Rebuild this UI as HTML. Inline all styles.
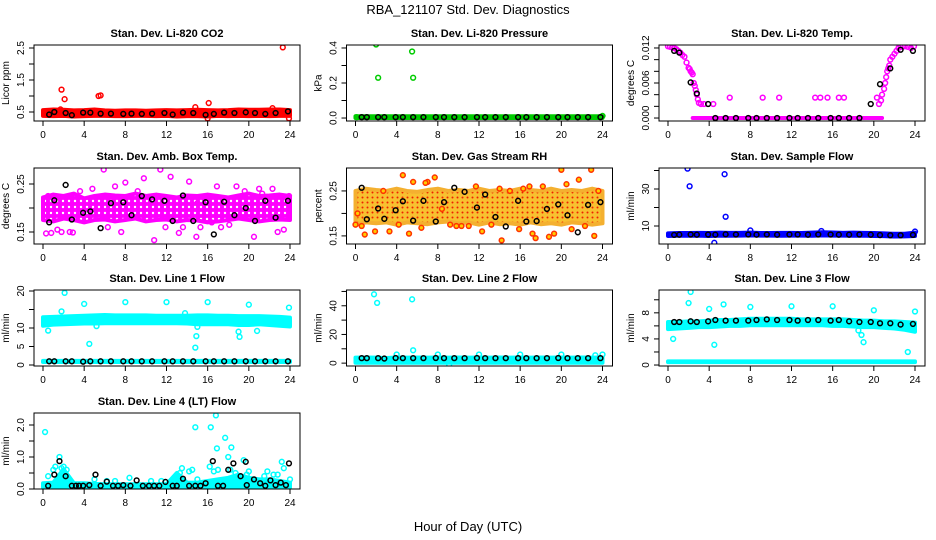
<!DOCTYPE html>
<html><head><meta charset="utf-8"><style>
html,body{margin:0;padding:0;background:#fff;}
svg{display:block;font-family:"Liberation Sans",sans-serif;}
</style></head><body>
<svg id="chart" width="936" height="540" viewBox="0 0 936 540">
<defs>
<pattern id="pat-mag" width="6" height="6" patternUnits="userSpaceOnUse">
<rect width="6" height="6" fill="#ff00ff"/>
<circle cx="3" cy="3" r="1.2" fill="#fff"/>
</pattern>
<pattern id="pat-rh" width="5" height="5" patternUnits="userSpaceOnUse">
<rect width="5" height="5" fill="#f8c030"/>
<circle cx="2.5" cy="2.5" r="1" fill="#ee2200"/>
</pattern>
</defs>
<text x="468" y="14" text-anchor="middle" font-size="13">RBA_121107  Std. Dev. Diagnostics</text>
<text x="468" y="531" text-anchor="middle" font-size="13">Hour of Day (UTC)</text>
</svg>
<script>
const HOURS = [0,1,2,3,4,5,6,7,8,9,10,11,12,13,14,15,16,17,18,19,20,21,22,23,24];
const BLACK_X = [0.6,1.1,2.2,2.8,3.9,4.6,5.6,6.6,7.8,8.6,9.6,10.6,11.8,12.6,13.6,14.6,15.8,16.6,17.6,18.6,19.7,20.6,21.6,22.6,23.8];
const XTICKS = [0,4,8,12,16,20,24];

const co2Lo = [0.38,0.37,0.38,0.36,0.37,0.38,0.38,0.37,0.37,0.38,0.38,0.37,0.38,0.36,0.37,0.37,0.36,0.38,0.37,0.38,0.37,0.38,0.37,0.38,0.38];
const co2Hi = [0.56,0.58,0.57,0.55,0.56,0.58,0.55,0.54,0.55,0.55,0.54,0.55,0.56,0.55,0.56,0.57,0.56,0.55,0.56,0.58,0.57,0.57,0.58,0.58,0.56];
const co2PtX = [1.8,2.1,5.4,5.6,14.8,16.1,23.3,23.9,16.0,1.7,22.3];
const co2PtY = [1.2,0.9,1.0,1.02,0.65,0.78,2.52,0.3,0.3,0.58,0.62];
const co2Black = [0.42,0.5,0.47,0.4,0.48,0.48,0.45,0.45,0.44,0.45,0.44,0.45,0.47,0.42,0.48,0.47,0.41,0.44,0.48,0.47,0.49,0.47,0.44,0.47,0.52];
const presLo = [0,0,0,0,0,0,0,0,0,0,0,0,0,0,0,0,0,0,0,0,0,0,0,0,0];
const presHi = [0.01,0.01,0.01,0.01,0.01,0.01,0.01,0.01,0.01,0.01,0.01,0.01,0.01,0.01,0.01,0.01,0.01,0.01,0.01,0.01,0.01,0.01,0.01,0.01,0.01];
const presPtX = [2.0,2.2,5.5,5.6,0.1,24];
const presPtY = [0.42,0.23,0.38,0.23,0.005,0.012];
const presBlack = [0.005,0.005,0.005,0.005,0.005,0.005,0.005,0.005,0.005,0.005,0.005,0.005,0.005,0.005,0.005,0.005,0.005,0.005,0.005,0.005,0.005,0.005,0.005,0.005,0.005];
const tempBandX = [2.4,20.8];
const tempLo = [0,0];
const tempHi = [0,0];
const tempPtX = [0,0.2,0.4,0.6,0.8,1,1.2,1.4,1.6,1.8,2,2.1,2.2,2.3,2.4,2.5,2.6,2.7,2.8,2.9,3,3.2,3.5,4.4,6,9.2,10.8,14.3,14.8,15.5,16.6,17.1,20.3,20.5,20.7,20.8,21,21.1,21.2,21.3,21.4,21.5,21.6,21.8,22,22.2,22.4,22.6,22.8,23,23.3,23.6,23.9];
const tempPtY = [0.0123,0.0122,0.0121,0.0120,0.0118,0.0115,0.0112,0.0108,0.0105,0.0095,0.0086,0.0084,0.0080,0.0078,0.0075,0.0060,0.0055,0.0048,0.0040,0.0032,0.0026,0.0024,0.0024,0.0024,0.0035,0.0035,0.0035,0.0035,0.0035,0.0035,0.0035,0.0035,0.0035,0.0024,0.0030,0.0040,0.0050,0.0060,0.0070,0.0080,0.0085,0.0090,0.0100,0.0105,0.0110,0.0115,0.0120,0.0122,0.0123,0.0123,0.0122,0.0120,0.0123];
const tempBlack = [0.0115,0.0112,0.0061,0.0042,0.0024,0,0,0,0,0,0,0,0,0,0,0,0,0,0,0,0.0024,0.0058,0.0085,0.0117,0.0115];
const ambLo = [0.175,0.172,0.178,0.175,0.17,0.175,0.176,0.172,0.175,0.178,0.172,0.175,0.176,0.172,0.175,0.174,0.17,0.172,0.175,0.178,0.175,0.172,0.175,0.176,0.175];
const ambHi = [0.222,0.228,0.225,0.23,0.22,0.225,0.228,0.226,0.225,0.23,0.225,0.228,0.225,0.222,0.226,0.225,0.228,0.225,0.222,0.226,0.23,0.225,0.226,0.228,0.225];
const ambPtX = [0.3,0.8,1.4,2.6,2.9,3.6,5.9,6.3,7.0,7.6,8.0,9.8,10.8,11.4,11.9,12.4,13.2,14.2,14.9,15.3,16.4,16.9,17.3,18.8,19.6,20.5,21.3,22.3,22.8,23.4,23.9,0.5,4.8,6.6,9.2,13.6,15.0,18.1,21.0,1.8];
const ambPtY = [0.147,0.148,0.155,0.15,0.149,0.235,0.28,0.16,0.245,0.15,0.253,0.262,0.133,0.28,0.16,0.265,0.148,0.255,0.14,0.16,0.17,0.245,0.16,0.245,0.235,0.14,0.23,0.24,0.15,0.155,0.225,0.225,0.24,0.22,0.235,0.16,0.21,0.165,0.24,0.15];
const ambBlack = [0.17,0.216,0.248,0.176,0.19,0.193,0.158,0.21,0.212,0.185,0.225,0.218,0.215,0.173,0.226,0.173,0.212,0.145,0.213,0.185,0.2,0.173,0.215,0.18,0.215];
const rhLo = [0.175,0.18,0.178,0.18,0.175,0.18,0.178,0.176,0.18,0.182,0.178,0.18,0.175,0.18,0.176,0.178,0.175,0.18,0.176,0.178,0.175,0.18,0.178,0.175,0.178];
const rhHi = [0.25,0.255,0.252,0.25,0.255,0.25,0.248,0.252,0.255,0.25,0.252,0.25,0.255,0.25,0.252,0.25,0.255,0.252,0.25,0.255,0.25,0.252,0.25,0.255,0.25];
const rhPtX = [0,0.2,0.6,0.9,1.9,2.7,3.3,4.6,5.2,5.6,6.4,7.0,7.7,8.4,9.2,10.3,11.0,11.7,12.3,13.2,14.0,14.2,15.0,15.9,16.3,16.9,17.2,17.5,18.2,18.8,19.3,20.0,20.5,21.0,21.7,22.3,22.9,23.2,23.6,4.2,6.8,9.8];
const rhPtY = [0.175,0.2,0.172,0.153,0.16,0.25,0.16,0.285,0.155,0.27,0.168,0.27,0.28,0.21,0.175,0.172,0.172,0.26,0.16,0.175,0.255,0.14,0.25,0.165,0.255,0.26,0.155,0.145,0.26,0.148,0.155,0.297,0.265,0.165,0.275,0.172,0.297,0.15,0.25,0.175,0.268,0.172];
const rhBlack = [0.257,0.187,0.211,0.188,0.207,0.227,0.184,0.228,0.182,0.225,0.257,0.248,0.213,0.242,0.192,0.171,0.228,0.182,0.183,0.21,0.22,0.196,0.158,0.219,0.225];
const sampLo = [4.6,4.8,4.7,4.8,4.6,4.8,4.7,4.8,4.9,4.8,4.8,4.7,4.8,4.8,4.7,4.9,4.8,4.8,4.7,4.8,4.6,4.5,4.3,4.4,4.6];
const sampHi = [6.0,6.2,6.2,6.3,6.2,6.4,6.3,6.3,6.4,6.2,6.2,6.3,6.3,6.2,6.4,6.6,6.5,6.3,6.4,6.3,6.2,6.0,5.8,5.8,6.4];
const sampPtX = [1.9,2.1,5.5,5.6,4.5,8.0,14.9,24.0];
const sampPtY = [41.0,31.5,38.0,15.0,0.9,7.6,7.3,7.0];
const sampBlack = [5.2,5.3,5.4,5.3,5.4,5.3,5.5,5.4,5.4,5.3,5.4,5.3,5.4,5.4,5.3,5.4,5.4,5.3,5.3,5.4,5.3,5.1,5.0,5.0,5.2];
const l1Lo = [10.6,10.9,11.0,11.1,11.2,11.2,11.3,11.3,11.3,11.3,11.3,11.3,11.3,11.3,11.2,11.0,11.0,11.0,11.0,10.8,10.8,11.0,10.8,10.6,10.4];
const l1Hi = [12.9,13.0,13.1,13.2,13.3,13.4,13.5,13.4,13.4,13.4,13.4,13.3,13.3,13.3,13.3,13.4,13.4,13.3,13.3,13.2,13.2,13.2,13.1,13.0,12.8];
const l1LoB = [0.8,0.8,0.8,0.8,0.8,0.8,0.8,0.8,0.8,0.8,0.8,0.8,0.8,0.8,0.8,0.8,0.8,0.8,0.8,0.8,0.8,0.8,0.8,0.8,0.8];
const l1HiB = [1.1,1.1,1.1,1.1,1.1,1.1,1.1,1.1,1.1,1.1,1.1,1.1,1.1,1.1,1.1,1.1,1.1,1.1,1.1,1.1,1.1,1.1,1.1,1.1,1.1];
const l1PtX = [2.1,1.8,4.0,4.5,0.5,5.2,8.0,12.0,14.8,14.9,15.0,16.0,19.0,19.1,20.0,20.8,23.9,13.8];
const l1PtY = [19.5,14.5,16.5,5.7,9.3,10.5,17.0,17.0,4.7,7.8,10.3,17.0,9.0,7.6,16.3,9.2,15.5,14.0];
const l1Black = [1,1,1,1,0.9,1,1,1,1,1,1,1,1,1,1,1,1,1,1,1,1,1,1,1,1];
const l2Lo = [0.3,0.3,0.3,0.3,0.3,0.3,0.3,0.3,0.3,0.3,0.3,0.3,0.3,0.3,0.3,0.3,0.3,0.3,0.3,0.3,0.3,0.3,0.3,0.3,0.3];
const l2Hi = [3.8,3.9,3.8,3.6,3.9,3.8,3.9,3.8,3.9,3.8,3.9,3.8,3.9,3.8,3.9,3.8,3.9,3.8,3.9,3.8,3.9,3.8,3.9,3.8,3.9];
const l2PtX = [1.8,2.1,5.5,5.6,4.0,8.0,12.0,16.0,20.0,24.0,9.1,23.3];
const l2PtY = [48.0,42.0,44.5,9.0,6.0,6.0,6.0,6.0,6.0,6.0,-1.0,5.5];
const l2Black = [3.5,3.5,3.5,3.2,3.6,3.5,3.5,3.5,3.6,3.5,3.5,3.5,3.6,3.5,3.5,3.5,3.5,3.5,3.5,3.5,3.6,3.5,3.5,3.5,3.5];
const l3Lo = [5.5,5.6,5.7,5.8,5.8,5.9,6.0,6.0,6.1,6.1,6.1,6.1,6.1,6.1,6.1,6.1,6.0,6.0,5.9,5.8,5.8,5.7,5.6,5.4,5.1];
const l3Hi = [6.6,6.6,6.7,6.7,6.8,6.9,6.9,7.0,7.1,7.1,7.1,7.1,7.1,7.0,7.0,7.0,7.0,7.0,6.9,6.8,6.8,6.7,6.7,6.6,6.5];
const l3LoB = [0.45,0.45,0.45,0.45,0.45,0.45,0.45,0.45,0.45,0.45,0.45,0.45,0.45,0.45,0.45,0.45,0.45,0.45,0.45,0.45,0.45,0.45,0.45,0.45,0.45];
const l3HiB = [0.55,0.55,0.55,0.55,0.55,0.55,0.55,0.55,0.55,0.55,0.55,0.55,0.55,0.55,0.55,0.55,0.55,0.55,0.55,0.55,0.55,0.55,0.55,0.55,0.55];
const l3PtX = [2.0,2.2,0.5,4.0,4.5,5.4,8.0,12.0,16.0,18.8,19.0,18.5,20.0,23.3,24.0];
const l3PtY = [9.5,11.2,4.0,8.6,3.1,9.3,8.9,9.0,9.0,4.6,3.5,5.3,8.4,2.0,8.2];
const l3Black = [6.6,6.6,6.7,6.6,6.7,6.9,6.8,6.8,6.8,6.9,7.0,6.9,6.9,6.8,6.9,6.9,6.8,6.9,6.7,6.6,6.6,6.4,6.4,6.2,6.3];
const l4Lo = [0.05,0.05,0.05,0.05,0.05,0.05,0.05,0.05,0.05,0.05,0.05,0.05,0.05,0.05,0.05,0.05,0.05,0.05,0.05,0.05,0.05,0.05,0.05,0.05,0.05];
const l4Hi = [0.18,0.2,0.62,0.18,0.18,0.16,0.15,0.15,0.15,0.15,0.15,0.15,0.15,0.5,0.2,0.2,0.25,0.3,0.35,0.45,0.35,0.3,0.3,0.25,0.2];
const l4PtX = [0.2,0.5,1.0,1.2,1.6,1.8,2.0,2.3,5.0,6.2,7.0,8.4,10.5,11.5,13.3,13.5,14.2,14.5,14.8,15.0,16.2,16.3,16.6,16.8,16.9,17.0,17.7,18.0,18.2,18.3,18.4,18.7,19.5,19.8,20.0,21.5,21.8,22.4,22.8,23.2,23.4,24.0];
const l4PtY = [1.78,0.4,0.6,0.7,1.0,0.65,0.7,0.6,0.3,0.25,0.25,0.35,0.25,0.25,0.5,0.65,0.55,0.6,1.93,0.3,0.7,1.93,0.55,2.3,1.27,0.6,1.6,1.0,0.6,1.3,0.35,0.5,0.9,0.45,0.55,0.4,0.55,0.45,0.45,0.85,0.65,0.3];
const l4BlackX = [0.5,1.1,1.6,2.2,2.8,3.2,3.5,3.9,4.5,5.1,5.6,6.2,6.8,7.3,7.8,8.5,9.1,9.7,10.3,10.8,11.3,11.9,12.6,13.0,13.6,14.2,14.8,15.3,15.8,16.5,17.0,17.5,18.0,18.5,19.2,19.7,19.8,20.5,21.1,21.6,22.1,22.6,23.1,23.6,23.9];
const l4BlackY = [0.1,0.45,0.87,0.4,0.1,0.1,0.1,0.1,0.12,0.45,0.1,0.23,0.1,0.1,0.12,0.1,0.27,0.1,0.1,0.1,0.1,0.22,0.1,0.1,0.32,0.1,0.1,0.1,0.18,0.87,0.1,0.1,0.6,0.8,0.4,0.85,0.12,0.3,0.18,0.1,0.27,0.12,0.2,0.12,0.8];

const NS = "http://www.w3.org/2000/svg";
const svg = document.getElementById('chart');
const COLS = [34, 346.5, 659], ROWS = [45, 168, 290, 413], PW = 266, PH = 76;

function el(tag, attrs, parent) {
  const e = document.createElementNS(NS, tag);
  for (const k in attrs) e.setAttribute(k, attrs[k]);
  parent.appendChild(e);
  return e;
}

function panel(p) {
  const L = COLS[p.col], T = ROWS[p.row], R = L + PW, B = T + PH;
  const g = el('g', {}, svg);
  
  
  const xs = h => L + 9 + h * (247 / 24);
  const ys = v => T + (p.yTop - v) / (p.yTop - p.yBot) * PH;
  const t = el('text', {x: L + PW / 2, y: T - 8, 'text-anchor': 'middle', 'font-size': 11, 'font-weight': 'bold'}, g);
  t.textContent = p.title;
  
  
  const yl = el('text', {x: 0, y: 0, 'text-anchor': 'middle', 'font-size': 10, transform: `translate(${L - 25},${T + PH / 2}) rotate(-90)`}, g);
  yl.textContent = p.ylab;
  
  
  const clip = 'clip' + p.name;
  const cp = el('clipPath', {id: clip}, g);
  el('rect', {x: L, y: T, width: PW, height: PH}, cp);
  const pg = el('g', {'clip-path': `url(#${clip})`}, g);
  (p.bands || []).forEach(b => {
    const pts = b.x.map((h, i) => xs(h) + ',' + ys(b.hi[i])).concat(b.x.slice().reverse().map((h, i) => xs(h) + ',' + ys(b.lo[b.x.length - 1 - i])));
    const col = b.fill || p.color;
    const poly = el('polygon', {points: pts.join(' '), fill: col, stroke: b.stroke || col, 'stroke-width': 4, 'stroke-linejoin': 'round'}, pg);
    
    
  });
  p.ptX.forEach((h, i) => {
    const c = el('circle', {cx: xs(h), cy: ys(p.ptY[i]), r: 2.4, fill: p.ptFill || 'none', stroke: p.color, 'stroke-width': 1.5}, pg);
    
    
  });
  p.bx.forEach((h, i) => {
    const c = el('circle', {cx: xs(h), cy: ys(p.by[i]), r: 2.4, fill: 'none', stroke: '#000', 'stroke-width': 1.5}, pg);
    
    
  });
  const box = el('rect', {x: L, y: T, width: PW, height: PH, fill: 'none', stroke: '#000', 'stroke-width': 1}, g);
  
  
  XTICKS.forEach(h => {
    el('line', {x1: xs(h), x2: xs(h), y1: B, y2: B + 5, stroke: '#000'}, g);
    const tx = el('text', {x: xs(h), y: B + 17, 'text-anchor': 'middle', 'font-size': 10}, g);
    tx.textContent = h;
    
    
  });
  p.ticks.forEach(v => {
    el('line', {x1: L - 5, x2: L, y1: ys(v), y2: ys(v), stroke: '#000'}, g);
  });
  p.labels.forEach(v => {
    const ty = el('text', {x: 0, y: 0, 'text-anchor': 'middle', 'font-size': 10, transform: `translate(${L - 10},${ys(v)}) rotate(-90)`}, g);
    ty.textContent = v.toFixed(p.dec);
    
    
  });
}

const P = [
 {name:'panel-co2', col:0,row:0,title:'Stan. Dev. Li-820 CO2',ylab:'Licor ppm',yTop:2.594,yBot:0.219,ticks:[0.5,1,1.5,2,2.5],labels:[0.5,1.5,2.5],dec:1,color:'#ff0000',
  bands:[{x:HOURS,lo:co2Lo,hi:co2Hi}],ptX:co2PtX,ptY:co2PtY,bx:BLACK_X,by:co2Black},
 {name:'panel-pressure', col:1,row:0,title:'Stan. Dev. Li-820 Pressure',ylab:'kPa',yTop:0.417,yBot:-0.017,ticks:[0,0.1,0.2,0.3,0.4],labels:[0,0.2,0.4],dec:1,color:'#00cc00',
  bands:[{x:HOURS,lo:presLo,hi:presHi}],ptX:presPtX,ptY:presPtY,bx:BLACK_X,by:presBlack},
 {name:'panel-temp', col:2,row:0,title:'Stan. Dev. Li-820 Temp.',ylab:'degrees C',yTop:0.01251,yBot:-0.00051,ticks:[0,0.002,0.004,0.006,0.008,0.01,0.012],labels:[0,0.006,0.012],dec:3,color:'#ff00ff',
  bands:[{x:tempBandX,lo:tempLo,hi:tempHi}],ptX:tempPtX,ptY:tempPtY,bx:BLACK_X,by:tempBlack},
 {name:'panel-amb-temp', col:0,row:1,title:'Stan. Dev. Amb. Box Temp.',ylab:'degrees C',yTop:0.2833,yBot:0.125,ticks:[0.15,0.2,0.25],labels:[0.15,0.25],dec:2,color:'#ff00ff',
  bands:[{x:HOURS,lo:ambLo,hi:ambHi,fill:'url(#pat-mag)',stroke:'#ff00ff'}],ptX:ambPtX,ptY:ambPtY,bx:BLACK_X,by:ambBlack},
 {name:'panel-rh', col:1,row:1,title:'Stan. Dev. Gas Stream RH',ylab:'percent',yTop:0.301,yBot:0.132,ticks:[0.15,0.2,0.25],labels:[0.15,0.25],dec:2,color:'#ff3300',ptFill:'#ffcc00',
  bands:[{x:HOURS,lo:rhLo,hi:rhHi,fill:'url(#pat-rh)',stroke:'#f4b030'}],ptX:rhPtX,ptY:rhPtY,bx:BLACK_X,by:rhBlack},
 {name:'panel-sample-flow', col:2,row:1,title:'Stan. Dev. Sample Flow',ylab:'ml/min',yTop:41.35,yBot:0.27,ticks:[10,20,30,40],labels:[10,30],dec:0,color:'#0000ff',
  bands:[{x:HOURS,lo:sampLo,hi:sampHi}],ptX:sampPtX,ptY:sampPtY,bx:BLACK_X,by:sampBlack},
 {name:'panel-line1', col:0,row:2,title:'Stan. Dev. Line 1 Flow',ylab:'ml/min',yTop:20.27,yBot:-0.27,ticks:[0,5,10,15,20],labels:[0,5,10,20],dec:0,color:'#00ffff',
  bands:[{x:HOURS,lo:l1Lo,hi:l1Hi},{x:HOURS,lo:l1LoB,hi:l1HiB}],ptX:l1PtX,ptY:l1PtY,bx:BLACK_X,by:l1Black},
 {name:'panel-line2', col:1,row:2,title:'Stan. Dev. Line 2 Flow',ylab:'ml/min',yTop:51,yBot:-2,ticks:[0,10,20,30,40,50],labels:[0,20,40],dec:0,color:'#00ffff',
  bands:[{x:HOURS,lo:l2Lo,hi:l2Hi}],ptX:l2PtX,ptY:l2PtY,bx:BLACK_X,by:l2Black},
 {name:'panel-line3', col:2,row:2,title:'Stan. Dev. Line 3 Flow',ylab:'ml/min',yTop:11.5,yBot:-0.15,ticks:[0,2,4,6,8,10],labels:[0,4,8],dec:0,color:'#00ffff',
  bands:[{x:HOURS,lo:l3Lo,hi:l3Hi},{x:HOURS,lo:l3LoB,hi:l3HiB}],ptX:l3PtX,ptY:l3PtY,bx:BLACK_X,by:l3Black},
 {name:'panel-line4', col:0,row:3,title:'Stan. Dev. Line 4 (LT) Flow',ylab:'ml/min',yTop:2.375,yBot:0,ticks:[0,0.5,1,1.5,2],labels:[0,1,2],dec:1,color:'#00ffff',
  bands:[{x:HOURS,lo:l4Lo,hi:l4Hi}],ptX:l4PtX,ptY:l4PtY,bx:l4BlackX,by:l4BlackY}
];
P.forEach(panel);
</script>
</body></html>
